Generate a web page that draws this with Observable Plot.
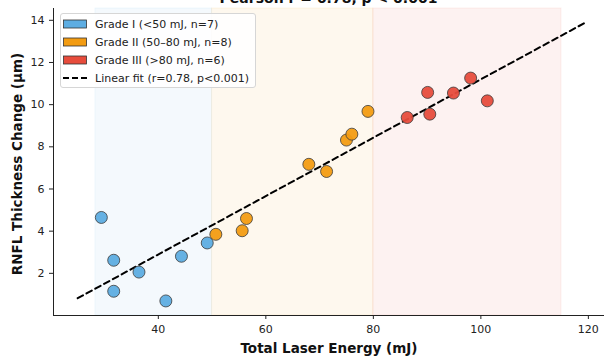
<!DOCTYPE html>
<html>
<head>
<meta charset="utf-8">
<script src="https://cdn.jsdelivr.net/npm/d3@7"></script>
<script src="https://cdn.jsdelivr.net/npm/@observablehq/plot@0.6"></script>
<style>
  body { margin: 0; background: #fff; font-family: "DejaVu Sans", sans-serif; }
  #wrap { position: relative; width: 608px; height: 358px; overflow: hidden; }
  #title { position: absolute; top: -9px; left: 53px; width: 551px; text-align: center;
           font: bold 14px/14px "DejaVu Sans", sans-serif; color: #111; }
  #legend { position: absolute; left: 60px; top: 13px; width: 194px; height: 73px;
            background: rgba(255,255,255,0.85); border: 1px solid #d6d6d6; border-radius: 3px;
            font: 11px "DejaVu Sans", sans-serif; color: #222; }
  .row { position: absolute; left: 2px; height: 18px; display: flex; align-items: center; white-space: nowrap; }
  .row svg { margin-right: 8px; }
</style>
</head>
<body>
<div id="wrap">
  <div id="chart"></div>
  <div id="title"></div>
  <div id="legend"></div>
</div>
<script>
// Data
const gradeLabels = ["Grade I (<50 mJ, n=7)", "Grade II (50\u201380 mJ, n=8)", "Grade III (>80 mJ, n=6)"];
const gradeColors = ["#5dade2", "#f39c12", "#e74c3c"];
const gradeBandStart = [28.3, 50, 80];
const gradeBandEnd = [50, 80, 115];

const gradeIEnergy = [29.4, 31.7, 31.7, 36.4, 41.4, 44.3, 49.1];
const gradeIChange = [4.65, 2.62, 1.15, 2.06, 0.69, 2.81, 3.44];
const gradeIIEnergy = [50.7, 55.6, 56.4, 68.0, 71.3, 75.0, 76.0, 79.0];
const gradeIIChange = [3.85, 4.02, 4.60, 7.17, 6.83, 8.32, 8.60, 9.68];
const gradeIIIEnergy = [86.3, 90.1, 90.5, 94.9, 98.1, 101.2];
const gradeIIIChange = [9.39, 10.58, 9.55, 10.55, 11.26, 10.18];

const fitEnergy = [25, 119.5];
const fitChange = [0.82, 13.9];
const fitLabel = "Linear fit (r=0.78, p<0.001)";

const titleText = "Pearson r = 0.78, p < 0.001";
const xLabel = "Total Laser Energy (mJ)";
const yLabel = "RNFL Thickness Change (\u03bcm)";
const xTicks = [40, 60, 80, 100, 120];
const yTicks = [2, 4, 6, 8, 10, 12, 14];
const xDomain = [20.5, 123];
const yDomain = [0, 14.56];

// Build tables
const groups = [
  {e: gradeIEnergy, c: gradeIChange, g: 0},
  {e: gradeIIEnergy, c: gradeIIChange, g: 1},
  {e: gradeIIIEnergy, c: gradeIIIChange, g: 2}
];
const points = groups.flatMap(({e, c, g}) => e.map((x, i) => ({x, y: c[i], g})));
const bands = gradeLabels.map((l, i) => ({x1: gradeBandStart[i], x2: gradeBandEnd[i], g: i}));
const fit = fitEnergy.map((x, i) => ({x, y: fitChange[i]}));

const plot = Plot.plot({
  width: 608,
  height: 358,
  marginLeft: 53,
  marginRight: 4,
  marginTop: 8,
  marginBottom: 43,
  style: {fontFamily: "DejaVu Sans, sans-serif", fontSize: "11px", color: "#222", background: "white"},
  x: {domain: xDomain},
  y: {domain: yDomain},
  marks: [
    Plot.rect(bands, {x1: "x1", x2: "x2", y1: yDomain[0], y2: yDomain[1], fill: d => gradeColors[d.g], fillOpacity: 0.07,
      stroke: d => gradeColors[d.g], strokeOpacity: 0.08, strokeWidth: 1}),
    Plot.line(fit, {x: "x", y: "y", stroke: "black", strokeWidth: 2, strokeDasharray: "6,4"}),
    Plot.dot(points, {x: "x", y: "y", r: 6, fill: d => gradeColors[d.g], fillOpacity: 0.95, stroke: "#3a3a3a", strokeWidth: 0.8}),
    Plot.ruleX([xDomain[0]], {stroke: "#222", strokeWidth: 1}),
    Plot.ruleY([yDomain[0]], {stroke: "#222", strokeWidth: 1}),
    Plot.axisX({ticks: xTicks, tickSize: 4, tickPadding: 6, label: null, fontSize: 11}),
    Plot.axisY({ticks: yTicks, tickSize: 4, tickPadding: 5, label: null, fontSize: 11}),
    Plot.text([xLabel], {frameAnchor: "bottom", textAnchor: "middle", lineAnchor: "middle", dy: 33, fontWeight: "bold", fontSize: 13.5, fill: "#111"}),
    Plot.text([yLabel], {frameAnchor: "left", textAnchor: "middle", lineAnchor: "middle", dx: -36, dy: 2, rotate: -90, fontWeight: "bold", fontSize: 13.5, fill: "#111"})
  ]
});
document.getElementById("chart").appendChild(plot);
document.getElementById("title").textContent = titleText;

// Legend
const legend = document.getElementById("legend");
const entries = gradeLabels.map((l, i) => ({label: l, color: gradeColors[i], type: "patch"}))
  .concat([{label: fitLabel, type: "line"}]);
entries.forEach((en, i) => {
  const row = document.createElement("div");
  row.className = "row";
  row.style.top = (1 + i * 18) + "px";
  const sym = en.type === "patch"
    ? `<svg width="24" height="10"><rect x="0.5" y="1" width="23" height="8" fill="${en.color}" stroke="#333" stroke-width="0.8"/></svg>`
    : `<svg width="24" height="10"><line x1="0" y1="5" x2="24" y2="5" stroke="black" stroke-width="2" stroke-dasharray="6,3"/></svg>`;
  row.innerHTML = sym + `<span>${en.label.replace(/</g, "&lt;").replace(/>/g, "&gt;")}</span>`;
  legend.appendChild(row);
});
</script>
</body>
</html>
